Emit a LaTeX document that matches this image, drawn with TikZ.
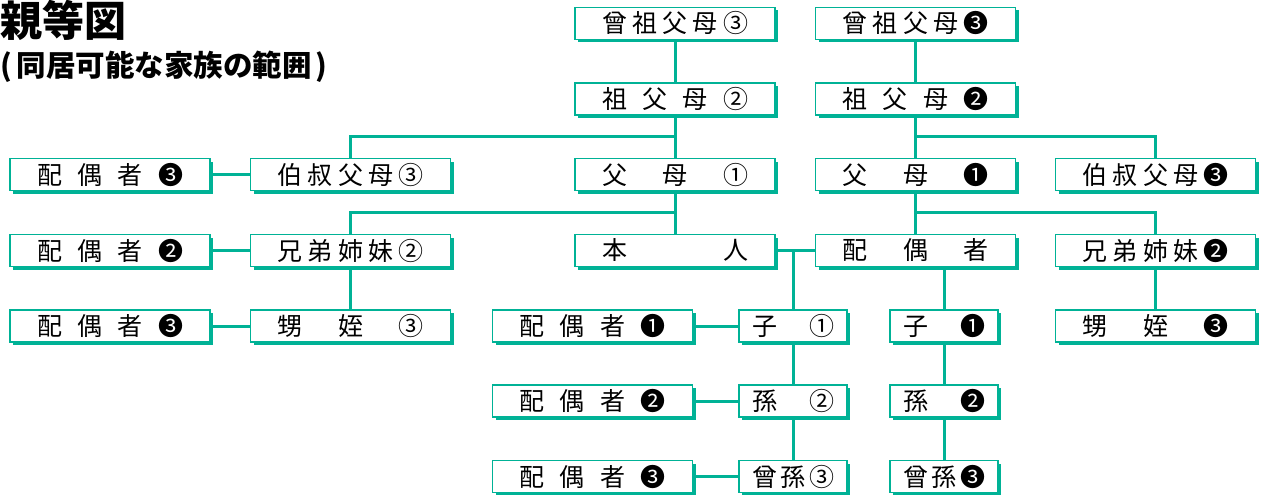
\documentclass[tikz,border=0pt]{standalone}
\usepackage{fontspec}
\newfontfamily\jpfont{Noto Sans CJK JP}
\usetikzlibrary{shadows, calc}
\definecolor{kinteal}{RGB}{0,178,150}
\newcommand{\wideLabel}[1]{\makebox[146pt]{#1}}
\newcommand{\shortLabel}[1]{\makebox[82pt]{#1}}

\begin{document}
\begin{tikzpicture}[x=1pt, y=-1pt,
    kinbox/.style={draw=kinteal, line width=1.2pt, fill=white, minimum height=32pt, inner sep=0pt,
        font=\jpfont\fontsize{25}{25}\selectfont,
        drop shadow={shadow xshift=3pt, shadow yshift=-3pt, fill=kinteal, opacity=1}},
    widebox/.style={kinbox, minimum width=200pt},
    shortbox/.style={kinbox, minimum width=108pt},
    link/.style={kinteal, line width=3pt}]
\useasboundingbox (0,0) rectangle (1263,495);

\node[font=\jpfont\bfseries\fontsize{42}{42}\selectfont, anchor=base west, inner sep=0pt] (title) at (0,37) {親等図};
\node[font=\jpfont\bfseries\fontsize{29.5}{29.5}\selectfont, anchor=base west, inner sep=0pt] (subtitle) at (0,77) {(\kern5pt 同居可能な家族の範囲\kern4pt)};

% own side
\node[widebox] (ggpA) at (675,23.5) {\wideLabel{曾\hfill 祖\hfill 父\hfill 母\hfill ③}};
\node[widebox] (gpA) at (675,99) {\wideLabel{祖\hfill 父\hfill 母\hfill ②}};
\node[widebox] (parentA) at (675,174.5) {\wideLabel{父\hfill 母\hfill ①}};
\node[widebox] (uncleA) at (350.5,174.5) {\wideLabel{伯\hfill 叔\hfill 父\hfill 母\hfill ③}};
\node[widebox] (uncleSp) at (110,174.5) {\wideLabel{配\hfill 偶\hfill 者\hfill ❸}};
\node[widebox] (siblingA) at (350.5,250.5) {\wideLabel{兄\hfill 弟\hfill 姉\hfill 妹\hfill ②}};
\node[widebox] (siblingSp) at (110,250.5) {\wideLabel{配\hfill 偶\hfill 者\hfill ❷}};
\node[widebox] (nephewA) at (350.5,326) {\wideLabel{甥\hfill 姪\hfill ③}};
\node[widebox] (nephewSp) at (110,326) {\wideLabel{配\hfill 偶\hfill 者\hfill ❸}};
\node[widebox] (self) at (675,250.5) {\wideLabel{本\hfill 人}};

% spouse side
\node[widebox] (ggpB) at (915.5,23.5) {\wideLabel{曾\hfill 祖\hfill 父\hfill 母\hfill ❸}};
\node[widebox] (gpB) at (915.5,99) {\wideLabel{祖\hfill 父\hfill 母\hfill ❷}};
\node[widebox] (parentB) at (915.5,174.5) {\wideLabel{父\hfill 母\hfill ❶}};
\node[widebox] (uncleB) at (1155.5,174.5) {\wideLabel{伯\hfill 叔\hfill 父\hfill 母\hfill ❸}};
\node[widebox] (spouse) at (915.5,250.5) {\wideLabel{配\hfill 偶\hfill 者}};
\node[widebox] (siblingB) at (1155.5,250.5) {\wideLabel{兄\hfill 弟\hfill 姉\hfill 妹\hfill ❷}};
\node[widebox] (nephewB) at (1155.5,326) {\wideLabel{甥\hfill 姪\hfill ❸}};

% descendants
\node[shortbox] (childA) at (793,326) {\shortLabel{子\hfill ①}};
\node[shortbox] (grandA) at (793,401) {\shortLabel{孫\hfill ②}};
\node[shortbox] (ggA) at (793,476.5) {\shortLabel{曾\hfill 孫\hfill ③}};
\node[widebox] (childSp) at (592.5,326) {\wideLabel{配\hfill 偶\hfill 者\hfill ❶}};
\node[widebox] (grandSp) at (592.5,401) {\wideLabel{配\hfill 偶\hfill 者\hfill ❷}};
\node[widebox] (ggSp) at (592.5,476.5) {\wideLabel{配\hfill 偶\hfill 者\hfill ❸}};
\node[shortbox] (childB) at (944,326) {\shortLabel{子\hfill ❶}};
\node[shortbox] (grandB) at (944,401) {\shortLabel{孫\hfill ❷}};
\node[shortbox] (ggB) at (944,476.5) {\shortLabel{曾\hfill 孫\hfill ❸}};

\coordinate (forkA) at ($(gpA.south)!0.5!(parentA.north)$);
\coordinate (forkB) at ($(gpB.south)!0.5!(parentB.north)$);
\coordinate (sibForkA) at ($(parentA.south)!0.5!(self.north)$);
\coordinate (sibForkB) at ($(parentB.south)!0.5!(spouse.north)$);

\draw[link] (ggpA) -- (gpA);
\draw[link] (gpA) -- (parentA);
\draw[link] (uncleA.north) |- (forkA);
\draw[link] (parentA) -- (self);
\draw[link] (siblingA.north) |- (sibForkA);
\draw[link] (siblingA) -- (nephewA);
\draw[link] (uncleSp) -- (uncleA);
\draw[link] (siblingSp) -- (siblingA);
\draw[link] (nephewSp) -- (nephewA);

\draw[link] (ggpB) -- (gpB);
\draw[link] (gpB) -- (parentB);
\draw[link] (uncleB.north) |- (forkB);
\draw[link] (parentB) -- (spouse);
\draw[link] (siblingB.north) |- (sibForkB);
\draw[link] (siblingB) -- (nephewB);

\draw[link] (self) -- (spouse);
\draw[link] (childA.north) -- (childA.north |- self.east);
\draw[link] (childA) -- (grandA);
\draw[link] (grandA) -- (ggA);
\draw[link] (childSp) -- (childA);
\draw[link] (grandSp) -- (grandA);
\draw[link] (ggSp) -- (ggA);
\draw[link] (childB.north) -- (childB.north |- spouse.south);
\draw[link] (childB) -- (grandB);
\draw[link] (grandB) -- (ggB);

\end{tikzpicture}
\end{document}
